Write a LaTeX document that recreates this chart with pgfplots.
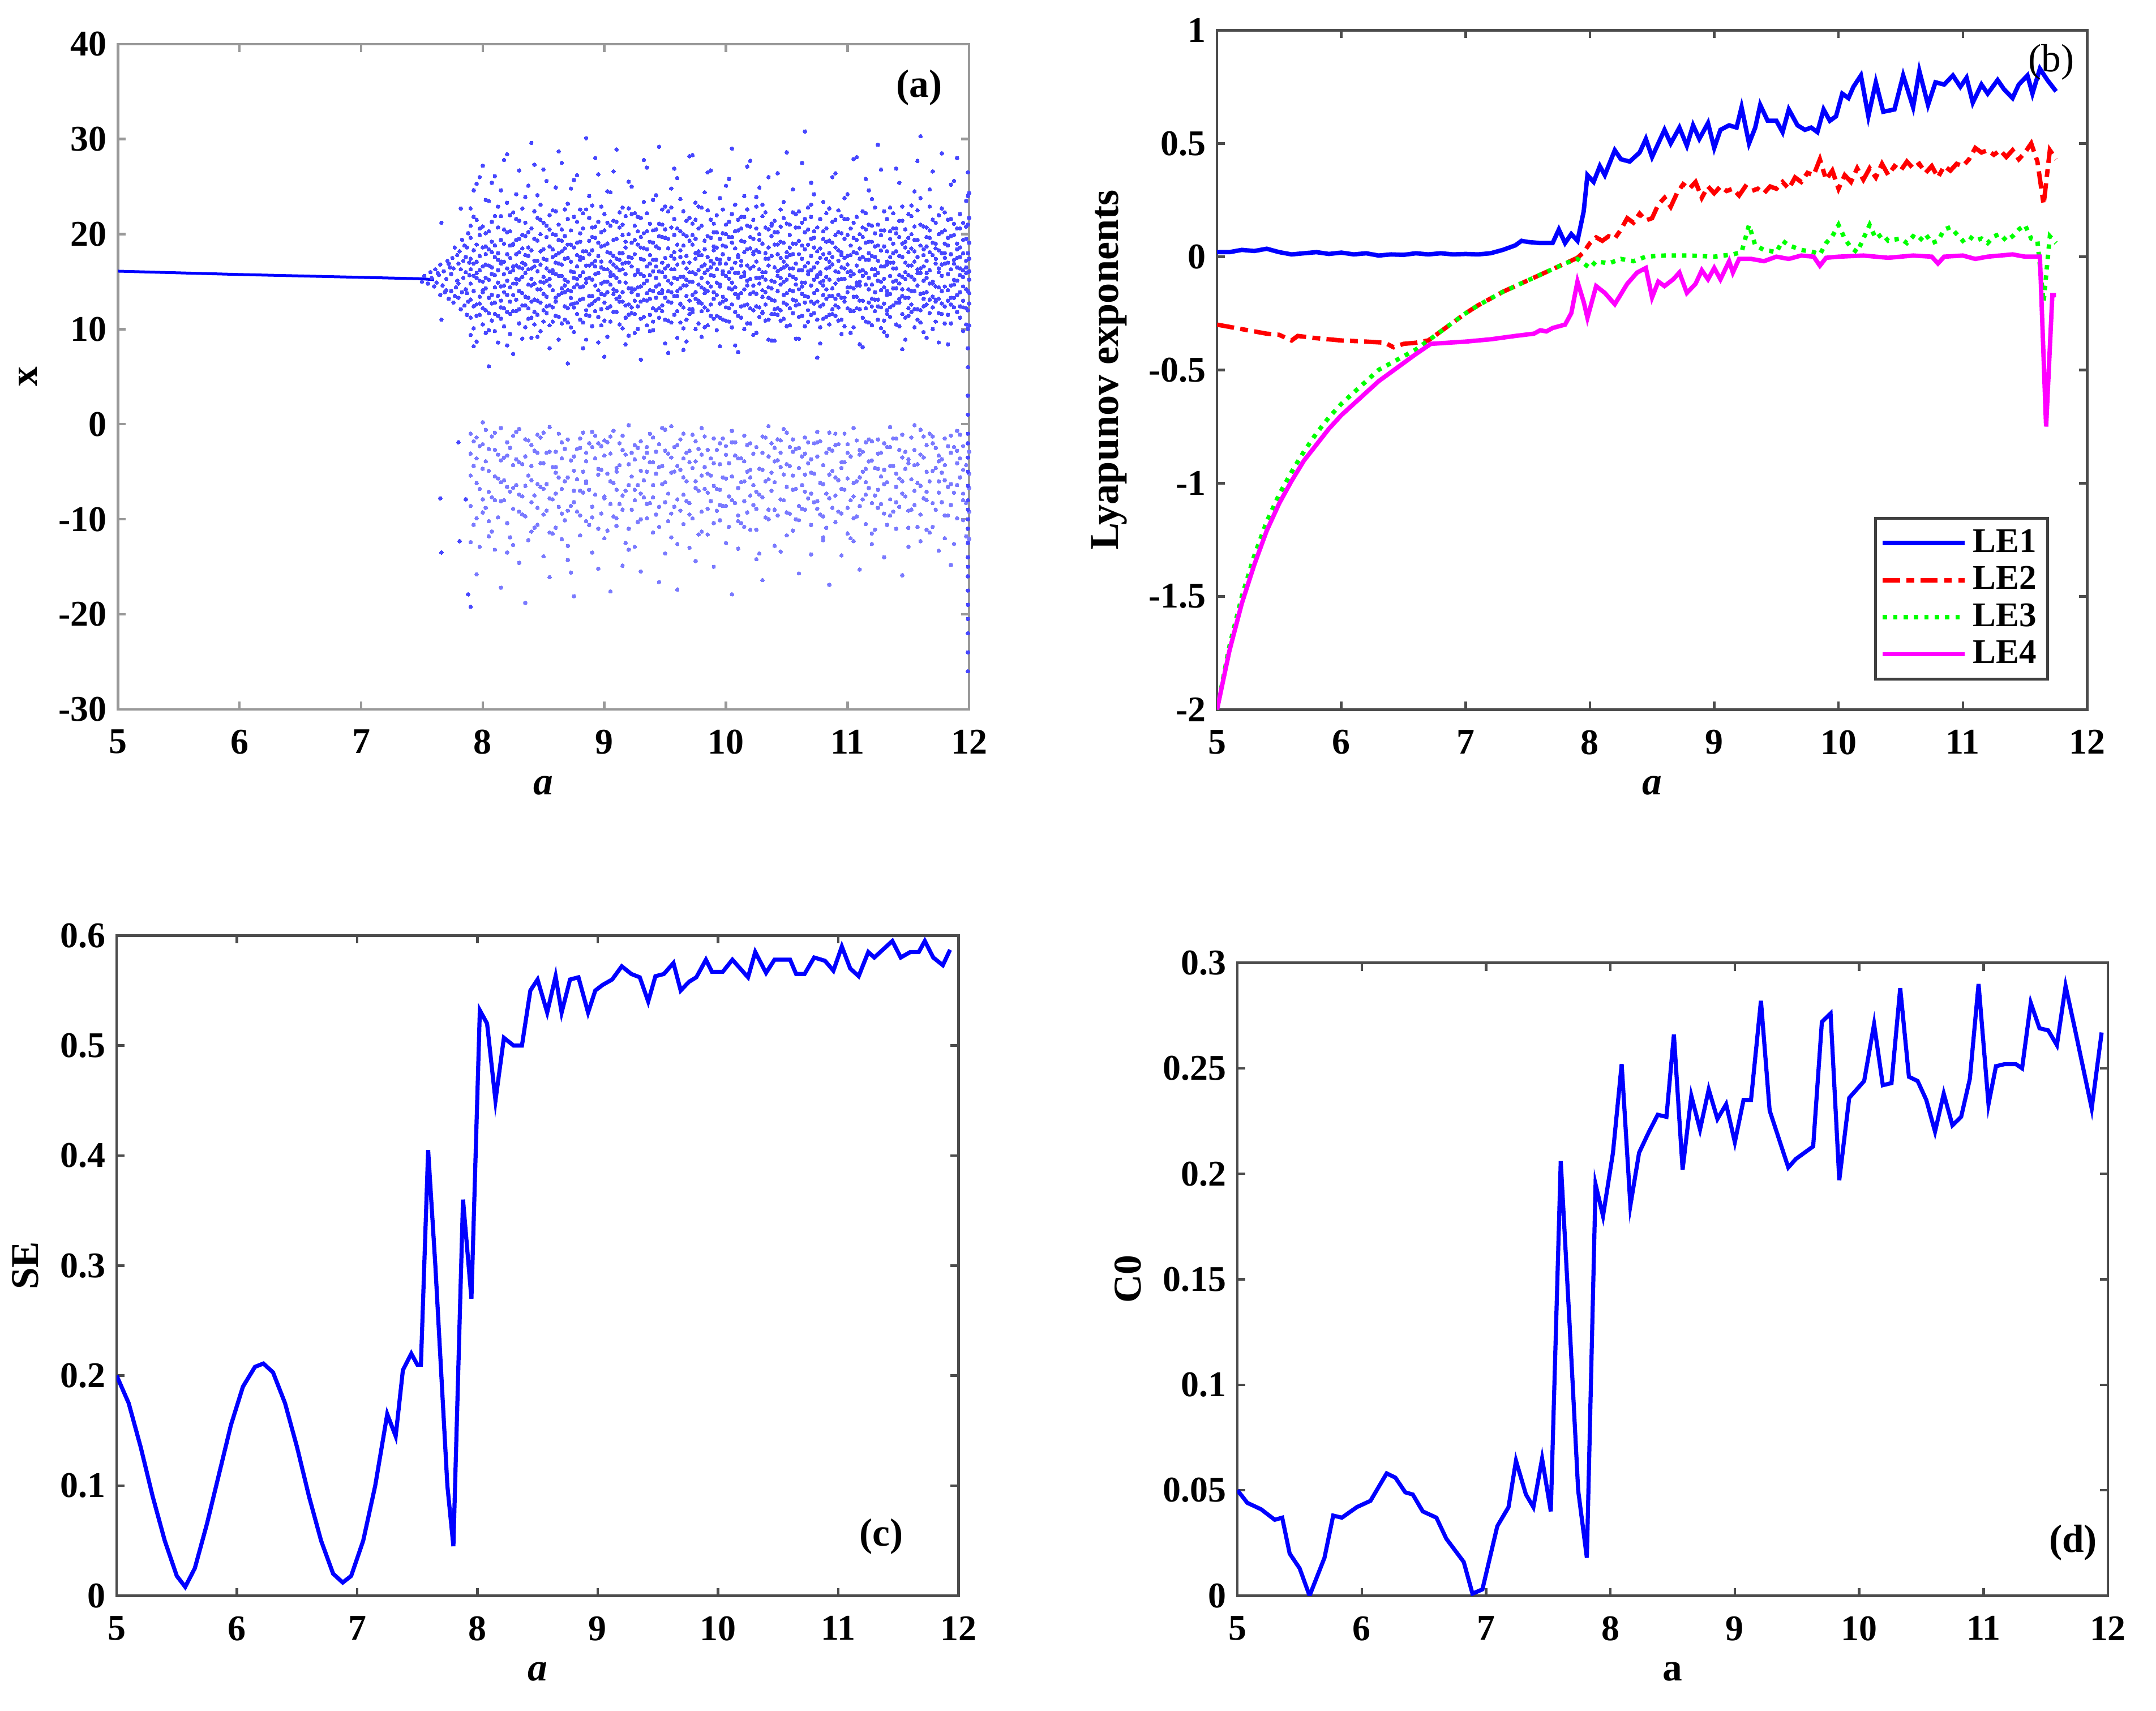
\documentclass[border=0pt]{standalone}
\usepackage{fontspec}
\setmainfont{Liberation Serif}
\usepackage{pgfplots}
\pgfplotsset{compat=1.18}
\usepackage{pgfplotstable}

\definecolor{mag}{rgb}{1,0,1}
\definecolor{grn}{rgb}{0,1,0}
\colorlet{dotup}{blue!72!white}
\colorlet{dotlo}{blue!52!white}

\newcommand\tickfont{\fontsize{11.5}{13}\selectfont\bfseries}
\newcommand\labfont{\fontsize{12.5}{14}\selectfont\bfseries}

\pgfplotsset{
  panel/.style={
    scale only axis,
    xmin=5, xmax=12, xtick={5,...,12},
    tick align=inside, major tick length=2.5pt,
    axis line style={black!70, line width=0.8pt},
    tick style={black!70, line width=0.8pt},
    ticklabel style={font=\tickfont},
    xticklabel style={yshift=-3pt},
    scaled ticks=false,
    /pgf/number format/fixed,
    /pgf/number format/assume math mode=true,
    label style={font=\labfont},
  },
  dots/.style={only marks, mark=*, mark size=0.6pt, color=dotup,
    mark options={fill=dotup, draw=dotup, line width=0pt}},
  ldots/.style={only marks, mark=*, mark size=0.6pt, color=dotlo,
    mark options={fill=dotlo, draw=dotlo, line width=0pt}},
}

% bifurcation cloud, upper band (u) and lower band (l) samples per a
\pgfplotstableread{
a u1 u2 u3 u4 u5 u6 l1 l2 l3 u7 u8 u9 l4 l5
7.90 14.8 19.6 11.2 22.7 16.3 9.4 -3.1 -8.6 -12.4 13.1 17.4 20.9 -5.4 -1.0
7.95 17.1 12.6 25.3 15.4 8.7 18.9 -6.2 -1.4 -15.8 15.9 11.4 21.5 -9.9 -3.6
8.00 13.9 20.8 16.6 10.5 27.2 14.1 -9.3 -4.7 0.2 18.6 12.2 15.0 -2.1 -7.9
8.05 18.4 11.7 15.2 23.5 13.3 6.1 -2.6 -11.8 -7.1 16.7 20.3 9.9 -4.9 -10.2
8.10 15.7 21.9 12.8 17.6 9.8 26.1 -5.5 -13.2 -0.9 14.4 18.8 11.6 -8.0 -2.7
8.15 12.3 16.9 19.4 14.5 24.6 11.1 -8.1 -3.8 -17.2 17.1 13.0 21.9 -6.1 -0.4
8.20 20.2 13.6 8.3 17.9 15.1 28.4 -1.9 -10.4 -6.6 11.8 16.4 23.3 -3.3 -13.5
8.25 16.2 11.9 22.3 14.8 19.0 7.4 -12.7 -4.3 -8.9 18.9 13.6 16.6 -6.7 -1.2
8.30 14.0 18.1 26.7 12.1 16.5 21.4 -7.4 -0.5 -14.6 15.2 10.6 19.5 -9.2 -4.0
8.35 17.8 10.2 15.9 23.9 13.4 19.8 -3.4 -9.7 -18.8 12.5 21.2 16.8 -1.6 -6.5
8.40 12.9 16.4 20.6 9.1 29.6 15.3 -5.9 -2.2 -11.3 18.3 14.6 11.2 -4.4 -8.2
8.45 19.3 14.2 11.5 17.2 24.1 13.0 -8.8 -1.1 -6.3 16.1 21.7 9.2 -10.6 -3.0
8.50 15.5 21.2 17.4 10.8 13.7 26.8 -4.1 -13.9 -9.5 12.0 18.4 14.9 -6.8 -0.9
8.55 18.7 12.5 16.1 22.0 8.0 14.6 -0.3 -7.8 -16.1 20.5 15.3 10.4 -2.9 -11.4
8.60 13.3 19.9 24.9 15.8 11.4 17.0 -10.9 -5.1 -2.9 17.8 12.9 22.4 -7.3 -4.5
8.65 16.8 10.6 14.3 20.5 18.2 27.5 -6.8 -12.1 -3.6 13.8 19.3 15.6 -1.9 -9.4
8.70 21.6 15.0 12.2 17.5 6.4 23.2 -1.6 -9.1 -14.3 18.9 10.7 14.1 -5.6 -12.8
8.75 14.4 18.6 9.7 16.0 25.7 12.7 -4.9 -8.2 -18.1 15.4 21.8 12.3 -3.4 -7.0
8.80 17.3 13.1 20.1 11.0 15.6 19.2 -7.0 -2.5 -11.7 22.6 14.4 17.6 -9.6 -1.5
8.85 12.0 22.6 16.7 14.9 8.9 30.1 -3.0 -10.2 -6.0 18.2 11.5 15.3 -6.2 -3.9
8.90 19.7 15.2 13.5 18.3 23.0 10.3 -9.8 -0.8 -13.5 12.7 16.9 20.7 -2.4 -8.7
8.95 15.9 11.3 17.7 21.3 14.1 26.3 -5.3 -15.2 -2.0 19.1 13.2 8.6 -4.7 -11.0
9.00 13.6 18.8 10.9 16.3 20.4 7.1 -7.6 -3.3 -12.0 15.0 22.1 12.8 -7.8 -1.7
9.05 20.9 14.7 17.1 12.4 24.4 16.0 -1.3 -8.4 -17.6 10.8 18.0 15.6 -3.1 -6.0
9.10 16.5 11.8 19.5 15.4 28.9 13.2 -4.6 -10.7 -6.9 21.3 14.0 17.4 -9.9 -5.0
9.15 18.0 13.9 22.8 10.1 16.9 21.0 -9.0 -2.7 -14.9 12.9 16.3 19.9 -1.2 -7.5
9.20 14.3 17.6 12.6 20.0 9.3 25.5 -6.4 -0.1 -11.0 17.0 22.7 11.5 -4.2 -13.2
9.25 11.6 19.4 15.7 17.9 13.0 22.2 -3.7 -12.9 -8.0 14.2 20.9 9.6 -6.9 -2.2
9.30 17.4 14.5 21.7 12.9 18.6 6.8 -7.3 -1.8 -15.5 19.7 15.8 11.1 -10.0 -4.9
9.35 15.1 20.3 10.4 16.6 27.0 13.8 -5.0 -9.9 -2.4 13.0 18.4 22.2 -3.0 -8.4
9.40 19.1 12.2 17.3 14.0 23.6 9.9 -11.4 -4.0 -7.7 16.1 10.8 20.4 -6.4 -1.4
9.45 13.8 16.1 21.1 18.5 11.2 29.2 -2.1 -8.7 -16.6 19.8 14.7 12.2 -4.5 -10.8
9.50 16.4 22.9 13.3 15.5 19.6 8.5 -6.1 -13.6 -0.6 11.0 17.5 20.5 -8.2 -2.8
9.55 12.8 17.7 14.8 20.7 10.7 24.8 -9.4 -3.5 -11.9 16.3 22.8 13.9 -5.1 -0.2
9.60 18.9 15.3 11.9 16.8 25.9 13.5 -4.4 -7.9 -17.4 14.0 20.6 9.1 -2.2 -12.6
9.65 14.6 20.0 17.0 12.3 22.4 7.8 -1.0 -10.5 -5.6 18.8 10.1 15.5 -7.4 -3.6
9.70 17.0 13.0 19.3 15.0 28.2 11.6 -8.3 -2.8 -13.0 12.1 21.7 16.0 -4.0 -9.5
9.75 15.8 21.5 10.0 18.0 13.9 23.3 -6.7 -14.4 -3.9 17.4 13.2 19.5 -1.8 -6.0
9.80 11.9 16.6 20.9 14.4 17.8 9.2 -3.2 -9.2 -0.4 22.8 15.4 12.7 -11.3 -5.4
9.85 19.8 14.0 16.2 22.5 12.0 26.5 -7.2 -11.6 -5.2 14.9 17.6 10.4 -2.7 -8.9
9.90 13.2 18.3 15.6 11.1 20.2 16.9 -1.5 -6.5 -15.0 21.1 13.9 18.7 -4.1 -10.4
9.95 16.9 12.7 23.8 17.3 8.2 14.7 -10.1 -4.2 -8.5 11.2 19.5 14.5 -6.9 -2.0
10.00 21.0 15.6 13.1 18.7 10.9 25.1 -5.7 -12.5 -2.3 16.9 12.3 20.0 -8.6 -3.2
10.05 14.9 19.1 16.4 12.6 22.1 29.0 -8.0 -0.7 -17.9 19.7 14.2 10.2 -1.9 -5.5
10.10 17.6 11.4 20.4 15.9 13.6 7.6 -3.6 -9.6 -13.1 13.3 21.5 17.8 -10.2 -6.7
10.15 12.5 16.0 18.1 21.8 14.2 24.0 -6.0 -1.2 -10.8 15.6 10.0 19.2 -3.9 -8.1
10.20 18.5 13.7 15.3 10.6 19.7 27.7 -11.1 -4.8 -7.5 20.8 16.4 12.2 -2.0 -5.6
10.25 15.4 20.6 12.4 17.1 9.6 22.9 -2.4 -8.9 -14.2 13.7 18.3 23.9 -7.1 -11.1
10.30 16.0 14.1 19.0 13.4 23.1 11.8 -7.7 -3.0 -16.4 11.7 21.9 15.5 -4.8 -1.3
10.35 20.5 17.4 11.0 16.7 14.4 26.0 -0.2 -5.8 -10.0 18.6 13.3 8.9 -9.0 -3.4
10.40 13.0 18.9 15.0 21.4 12.1 8.8 -9.0 -3.9 -12.8 16.5 20.2 11.6 -6.1 -2.5
10.45 17.5 12.0 22.6 14.7 19.2 16.3 -4.5 -13.4 -1.7 10.9 15.4 20.8 -3.0 -7.9
10.50 15.2 21.1 13.8 10.3 17.6 28.6 -6.6 -0.9 -9.3 18.1 12.6 16.7 -11.7 -4.2
10.55 19.0 15.5 11.7 16.4 24.7 13.1 -2.9 -11.2 -5.4 14.0 22.3 17.9 -1.6 -6.9
10.60 12.6 17.9 20.7 14.2 9.0 22.4 -8.6 -4.6 -15.7 16.2 11.3 19.3 -2.5 -10.1
10.65 16.6 13.5 18.4 12.8 21.6 30.8 -1.4 -7.1 -3.1 20.2 14.9 10.3 -5.3 -9.0
10.70 21.8 16.2 14.6 19.5 11.5 25.4 -5.1 -10.6 -13.7 12.9 17.7 23.1 -3.7 -7.3
10.75 14.1 18.2 12.9 17.0 15.7 7.0 -3.4 -8.1 -0.8 20.7 15.5 11.0 -8.9 -1.9
10.80 17.9 11.1 20.3 15.1 23.4 13.6 -9.7 -6.3 -12.2 14.6 19.5 12.6 -4.3 -11.9
10.85 13.5 19.3 16.5 22.7 10.5 18.0 -2.6 -5.3 -16.9 17.1 11.5 15.2 -7.8 -0.9
10.90 18.6 14.8 12.5 16.1 26.4 11.4 -7.5 -10.3 -1.0 13.2 21.5 19.9 -2.2 -5.6
10.95 15.3 20.1 17.8 13.3 9.5 21.9 -4.0 -13.8 -6.8 18.1 11.0 16.5 -9.4 -4.6
11.00 12.2 16.8 14.4 19.9 24.2 16.0 -8.8 -2.1 -11.5 21.6 13.9 17.7 -5.7 -3.0
11.05 19.6 13.4 21.2 15.8 11.9 27.9 -0.4 -6.2 -9.9 14.3 18.1 10.2 -7.6 -12.3
11.10 16.1 18.5 12.1 17.4 14.6 8.4 -5.6 -3.2 -15.3 20.0 15.0 13.0 -2.7 -8.6
11.15 14.7 22.2 15.9 10.8 20.5 25.8 -10.5 -7.4 -1.9 17.3 12.2 19.1 -4.7 -6.1
11.20 17.7 12.4 19.2 16.3 13.2 23.7 -3.8 -8.3 -12.6 10.4 20.9 14.7 -11.5 -1.8
11.25 13.1 17.2 15.1 21.0 11.0 29.4 -6.9 -1.6 -4.7 18.8 15.9 12.4 -3.1 -8.8
11.30 20.4 14.4 18.7 12.7 16.6 9.7 -2.0 -9.4 -14.0 15.3 22.4 10.9 -6.3 -4.8
11.35 15.6 19.5 13.7 17.6 22.8 11.3 -7.9 -4.4 -0.3 12.3 17.0 20.3 -9.6 -2.4
11.40 18.2 12.8 16.4 14.3 20.6 26.9 -5.2 -11.0 -8.2 20.1 10.5 15.1 -1.5 -6.6
11.45 14.2 21.4 11.6 19.0 15.5 7.9 -1.1 -6.0 -15.9 17.6 13.5 22.9 -7.3 -3.5
11.50 16.7 13.3 22.1 15.7 18.1 12.2 -9.1 -3.7 -10.9 11.4 19.6 14.2 -4.1 -12.9
11.55 19.4 17.1 14.0 20.8 10.2 24.5 -4.3 -7.0 -2.7 15.2 12.1 18.2 -8.5 -0.1
11.60 13.7 15.9 18.8 12.0 23.8 30.3 -6.5 -12.3 -0.6 21.0 16.4 10.7 -3.2 -9.5
11.65 17.2 20.7 15.4 13.9 9.1 19.7 -2.2 -8.0 -5.0 12.6 18.7 15.9 -7.1 -11.1
11.70 15.0 12.3 21.5 17.8 14.8 26.6 -10.8 -4.9 -1.3 19.1 13.4 10.0 -2.0 -8.3
11.75 18.3 16.4 13.2 20.0 11.7 8.6 -3.3 -7.2 -13.3 14.4 22.0 16.0 -6.0 -3.9
11.80 12.4 19.0 16.9 14.5 22.3 17.5 -5.9 -1.5 -9.6 18.0 10.6 20.4 -12.0 -4.3
11.85 16.3 14.6 19.8 12.6 25.2 10.6 -8.5 -3.0 -14.8 13.3 17.9 21.6 -1.2 -6.3
11.90 20.6 15.1 17.5 13.6 18.4 28.0 -2.8 -6.4 -0.7 11.8 16.5 19.0 -9.9 -4.1
11.95 14.5 18.0 12.3 21.2 16.2 9.8 -4.8 -10.1 -7.3 19.4 13.0 15.5 -2.3 -8.0
12.00 13.8 17.4 10.4 19.1 15.2 24.3 -6.7 -2.9 -12.1 16.1 21.7 12.7 -5.2 -9.2
}\cloudA

\pgfplotstableread{
a u1 u2 u3 u4 u5 u6 u7 u8 u9 l1 l2 l3 l4 l5
7.925 15.6 12.4 18.3 21.8 10.1 16.9 14.0 24.6 8.2 -4.4 -10.6 -1.8 -7.3 -14.1
7.975 13.4 17.7 19.9 11.5 15.1 26.0 12.7 16.2 20.6 -2.3 -6.8 -12.9 -5.0 -9.1
8.025 16.8 14.3 9.6 20.1 17.9 12.0 23.6 15.4 18.7 -8.8 -3.9 -0.6 -15.1 -6.2
8.075 12.7 19.2 15.8 13.6 25.4 18.1 10.9 16.5 21.3 -1.3 -7.7 -11.3 -4.6 -2.8
8.125 18.0 14.9 11.4 16.2 20.7 22.9 13.5 8.6 17.3 -5.7 -9.8 -3.2 -13.6 -0.3
8.175 14.6 20.5 17.1 12.2 15.8 10.3 19.0 27.8 13.9 -3.5 -8.0 -5.9 -1.1 -16.7
8.225 17.5 11.6 22.0 14.4 18.8 16.0 12.9 20.3 9.5 -7.1 -2.5 -11.9 -4.9 -9.3
8.275 13.1 16.7 19.4 24.2 11.9 15.3 17.9 14.8 21.6 -0.8 -6.4 -3.7 -10.0 -13.0
8.325 19.9 15.5 12.5 17.0 13.8 9.0 22.7 16.4 18.5 -4.2 -9.5 -7.6 -2.1 -16.0
8.375 16.3 13.3 20.2 11.1 18.6 25.1 14.7 12.2 17.7 -5.4 -1.7 -12.2 -8.0 -3.4
8.425 14.8 22.4 16.6 10.5 19.5 13.1 27.3 17.2 11.8 -2.8 -7.5 -10.9 -5.3 -14.7
8.475 18.2 12.8 15.0 21.5 14.2 16.8 9.8 20.0 23.1 -6.6 -1.4 -4.1 -12.6 -8.3
8.525 11.7 17.3 19.7 13.4 16.4 25.6 15.1 12.4 20.9 -3.0 -9.1 -6.3 -0.5 -10.7
8.575 15.9 20.0 14.1 18.4 10.8 12.3 22.5 17.6 16.2 -7.9 -4.5 -11.5 -2.2 -17.3
8.625 19.4 13.6 16.9 11.3 21.0 15.6 8.9 18.0 28.7 -1.0 -5.6 -8.7 -13.3 -3.9
8.675 12.4 18.5 22.6 15.2 13.9 17.4 19.8 11.0 14.6 -6.0 -10.1 -2.6 -4.7 -7.8
8.725 17.1 14.0 10.2 20.4 16.1 12.6 24.8 18.9 13.3 -3.8 -8.6 -15.6 -1.5 -6.9
8.775 14.7 21.3 17.8 12.8 19.1 15.3 11.6 16.6 26.2 -9.2 -2.6 -5.8 -11.8 -4.3
8.825 20.6 16.0 13.2 18.2 10.7 22.2 14.5 17.5 8.0 -5.0 -0.9 -7.2 -14.5 -3.1
8.875 13.5 17.9 15.4 21.7 12.5 16.7 19.3 11.4 24.0 -2.0 -6.9 -10.6 -4.0 -8.5
8.925 16.6 11.9 19.6 14.6 17.2 13.0 20.8 15.8 28.0 -7.4 -3.6 -1.2 -12.4 -5.6
8.975 18.7 14.8 12.1 16.5 22.9 10.4 17.1 13.7 20.2 -4.8 -9.4 -2.3 -6.5 -16.2
9.025 12.2 19.0 16.3 13.9 18.1 24.5 15.0 21.2 9.2 -1.9 -5.2 -11.2 -8.1 -3.3
9.075 17.7 13.7 21.4 15.7 11.8 19.4 14.2 16.8 26.6 -6.2 -0.7 -9.7 -3.8 -13.9
9.125 15.0 20.7 12.9 18.0 16.2 10.5 22.3 13.4 17.3 -8.4 -4.3 -2.0 -6.7 -11.0
9.175 19.2 12.5 17.0 14.9 21.9 15.8 11.2 18.6 8.4 -3.2 -7.0 -12.5 -5.1 -0.9
9.225 13.9 16.6 22.1 11.7 14.3 19.1 17.5 12.3 25.0 -5.5 -9.0 -3.0 -15.0 -7.6
9.275 16.2 18.9 14.4 20.3 12.4 16.0 10.0 21.8 13.6 -2.5 -6.4 -10.3 -1.4 -4.6
9.325 20.1 13.1 17.3 15.6 18.5 11.3 23.4 14.8 27.8 -7.7 -3.5 -5.9 -12.8 -9.6
9.375 11.5 15.7 19.2 13.2 21.1 16.9 14.1 17.8 9.8 -4.0 -1.0 -8.3 -6.1 -17.0
9.425 17.3 14.5 12.0 18.7 15.4 20.5 13.3 24.1 16.6 -9.5 -2.9 -5.2 -11.4 -3.7
9.475 14.1 21.0 16.0 11.9 19.7 13.8 17.0 12.5 22.6 -6.3 -0.4 -4.4 -8.8 -13.4
9.525 18.5 12.9 15.1 22.4 16.7 10.9 19.5 14.0 7.5 -3.1 -7.3 -10.2 -1.8 -5.7
9.575 15.4 17.4 13.5 19.9 11.5 16.3 21.6 18.1 26.9 -5.0 -8.7 -2.4 -12.1 -6.6
9.625 12.6 20.3 17.6 14.3 18.3 12.7 15.5 10.7 23.7 -1.6 -4.8 -9.1 -7.2 -15.4
9.675 19.8 15.2 11.0 16.4 13.5 21.4 17.7 14.6 8.7 -8.1 -3.0 -6.0 -11.0 -2.1
9.725 16.0 12.1 18.9 21.1 15.0 13.6 19.9 11.8 28.3 -4.6 -9.9 -1.1 -5.9 -13.8
9.775 13.0 17.8 14.7 10.6 20.6 16.2 12.8 22.9 18.2 -2.6 -7.0 -11.6 -3.9 -8.9
9.825 18.4 14.2 16.8 19.3 12.3 15.9 24.4 10.2 13.8 -6.8 -1.3 -4.5 -10.0 -16.4
9.875 15.7 21.5 12.6 17.2 14.5 19.6 11.4 16.5 26.7 -3.6 -8.1 -5.4 -0.8 -12.5
9.925 11.4 16.3 20.2 13.6 18.6 14.9 22.0 17.4 9.9 -9.1 -2.7 -6.8 -4.2 -11.9
9.975 17.9 13.4 15.8 22.6 11.0 20.1 16.1 12.9 18.8 -1.5 -5.6 -8.6 -13.1 -3.5
10.025 14.3 19.7 17.4 12.2 16.0 10.8 21.3 15.3 25.8 -7.6 -4.1 -10.8 -2.3 -6.3
10.075 20.3 15.9 11.8 18.5 13.7 17.0 14.4 23.1 8.3 -3.3 -8.3 -1.9 -5.8 -14.8
10.125 13.8 17.2 21.8 15.5 19.3 12.4 16.7 11.2 20.6 -6.1 -10.4 -3.6 -7.9 -0.6
10.175 16.7 12.6 14.6 20.9 15.1 18.4 10.6 22.6 27.1 -2.2 -5.0 -9.3 -12.2 -4.4
10.225 19.5 14.6 17.9 12.0 16.6 21.5 13.9 18.1 9.4 -8.5 -3.1 -6.4 -1.1 -10.5
10.275 12.3 18.1 15.4 20.0 11.3 14.8 19.4 16.3 24.9 -4.7 -7.4 -13.6 -2.9 -5.5
10.325 17.4 13.9 22.3 16.0 18.0 12.6 15.2 10.9 20.7 -1.4 -6.0 -9.8 -4.0 -16.8
10.375 15.1 20.9 13.1 17.7 11.6 19.8 14.3 21.1 8.8 -7.0 -2.0 -5.1 -11.3 -8.7
10.425 18.9 16.1 11.5 14.0 20.2 15.6 12.2 17.9 26.4 -3.8 -9.6 -1.6 -6.6 -12.0
10.475 13.6 15.0 19.1 21.7 12.8 17.1 16.5 11.1 23.4 -5.3 -0.5 -8.0 -3.2 -14.4
10.525 16.4 12.2 17.8 14.1 19.9 10.4 21.0 15.7 18.6 -9.4 -4.4 -2.4 -7.1 -11.7
10.575 20.7 14.7 13.0 16.9 15.3 22.1 12.5 19.0 9.0 -2.6 -6.8 -10.0 -4.8 -1.3
10.625 14.5 18.8 16.2 11.4 21.2 13.7 17.4 14.9 27.5 -6.4 -3.4 -8.9 -12.8 -5.7
10.675 12.0 17.0 20.5 15.8 13.4 18.9 10.8 22.8 16.1 -4.1 -1.9 -7.8 -9.9 -15.2
10.725 18.6 13.8 15.2 19.6 11.7 16.5 20.3 12.7 24.2 -8.2 -5.2 -2.0 -11.2 -3.8
10.775 15.8 21.6 12.4 17.5 14.9 10.2 18.5 16.0 8.5 -1.8 -6.2 -9.5 -4.3 -13.2
10.825 11.3 16.4 19.2 13.2 22.2 15.5 14.2 20.6 17.4 -7.3 -3.0 -10.9 -5.6 -0.7
10.875 19.1 14.3 17.6 12.1 16.8 21.3 13.5 11.6 26.0 -4.9 -8.8 -2.8 -14.1 -6.5
10.925 16.0 20.2 13.6 18.3 10.9 15.2 22.5 17.2 12.3 -2.1 -5.9 -9.2 -3.6 -11.5
10.975 13.3 17.5 21.6 15.3 19.5 12.9 16.4 10.3 23.8 -6.9 -4.0 -1.0 -7.7 -16.0
11.025 18.8 12.0 16.1 20.6 14.4 17.8 11.9 15.6 9.6 -3.4 -8.0 -12.0 -5.3 -2.5
11.075 14.9 19.4 13.4 16.7 21.8 12.2 18.0 14.6 28.1 -9.7 -1.7 -6.0 -4.1 -10.3
11.125 17.6 15.6 11.2 19.7 13.0 16.2 20.7 22.4 8.1 -5.0 -2.9 -7.9 -13.5 -0.8
11.175 12.8 21.0 18.0 14.2 17.3 10.7 15.4 19.2 24.6 -1.6 -6.7 -3.9 -9.0 -5.8
11.225 16.3 13.1 15.7 22.8 11.9 18.7 13.9 17.6 20.1 -7.5 -4.6 -11.1 -2.2 -15.7
11.275 19.9 16.6 12.3 15.0 20.4 14.1 10.1 18.3 26.8 -3.0 -8.4 -5.5 -1.2 -7.0
11.325 14.0 18.2 17.1 11.6 13.6 21.6 16.8 12.0 9.3 -6.1 -2.4 -10.6 -4.9 -12.4
11.375 17.0 12.5 20.6 16.4 19.0 15.0 22.2 14.3 18.0 -4.4 -9.2 -1.5 -7.5 -3.3
11.425 13.2 19.7 14.8 10.3 17.7 12.8 15.7 21.4 25.4 -8.7 -5.7 -2.7 -11.7 -6.3
11.475 20.5 15.3 18.6 13.3 16.0 11.2 19.2 17.0 8.9 -2.9 -7.6 -4.7 -10.4 -14.6
11.525 15.5 11.8 14.0 21.9 18.5 16.7 12.6 20.0 23.0 -5.8 -1.4 -9.0 -3.4 -7.9
11.575 12.1 17.6 22.5 15.9 14.6 19.4 11.0 16.3 27.7 -4.2 -10.8 -6.2 -2.0 -12.7
11.625 18.4 13.2 16.6 12.4 20.8 15.1 17.8 13.8 9.7 -7.8 -3.5 -1.3 -5.5 -16.5
11.675 14.8 20.4 11.7 18.1 13.1 22.9 16.2 19.6 24.7 -1.0 -6.0 -11.4 -8.4 -3.9
11.725 16.9 12.9 19.0 14.5 17.4 10.8 21.2 13.1 18.5 -9.0 -4.6 -2.5 -6.9 -12.1
11.775 11.6 18.0 15.6 20.2 12.7 16.8 14.0 22.7 28.5 -3.7 -8.2 -5.1 -1.6 -10.1
11.825 19.6 14.1 13.0 17.0 21.5 11.5 18.8 15.8 8.4 -6.6 -2.3 -9.6 -4.5 -14.3
11.875 15.2 17.3 21.1 12.3 14.7 19.9 13.3 16.9 25.6 -2.4 -7.2 -12.6 -5.0 -8.7
11.925 13.9 20.6 16.4 18.6 11.2 15.7 22.1 12.4 17.6 -5.6 -1.1 -3.6 -9.8 -6.8
11.975 17.2 12.2 14.2 19.5 16.5 20.8 10.5 15.9 23.5 -8.3 -4.3 -11.8 -2.6 -15.8
}\cloudB

\begin{document}
\begin{tikzpicture}
\useasboundingbox (0,0) rectangle (685.6pt,543.8pt);

% (a) bifurcation diagram
\begin{axis}[panel, at={(37.5pt,318.3pt)}, width=270.7pt, height=211.5pt,
  ymin=-30, ymax=40, ytick={-30,-20,...,40},
  axis line style={black!40}, tick style={black!40},
  ylabel={x}, xlabel={\itshape a}]
\addplot[blue, line width=0.9pt] coordinates {(5,16.1) (6,15.75) (7,15.45) (7.5,15.3) (7.6,15.2)};
\addplot[dots] coordinates {
(7.50,15.0) (7.52,15.6) (7.55,14.8) (7.57,16.0) (7.58,15.4) (7.60,14.5) (7.61,16.3)
(7.62,14.9) (7.63,15.9) (7.64,15.7) (7.65,16.8) (7.65,13.6) (7.66,21.2) (7.66,11.0)
(7.65,-7.8) (7.66,-13.5) (7.67,14.6) (7.68,16.1) (7.69,13.9) (7.70,14.1) (7.70,15.3)
(7.71,17.2) (7.72,13.2) (7.72,16.9) (7.73,16.5) (7.74,14.0) (7.74,15.8) (7.75,17.5)
(7.76,12.8) (7.76,16.4) (7.77,18.6) (7.77,13.5) (7.78,14.4) (7.79,15.1) (7.79,17.8)
(7.80,16.9) (7.80,13.3) (7.80,14.8) (7.81,18.2) (7.82,12.1) (7.82,16.3) (7.82,22.7)
(7.83,19.4) (7.83,13.9) (7.84,15.4) (7.84,17.2) (7.80,-1.9) (7.81,-12.3) (7.85,18.8)
(7.85,12.5) (7.86,17.6) (7.86,14.2) (7.86,16.0) (7.87,13.8) (7.87,18.6) (7.87,11.5)
(7.88,20.1) (7.88,12.9) (7.89,15.7) (7.89,17.0) (7.86,-7.9) (7.88,-17.9) (7.90,-19.2)};
\pgfplotsinvokeforeach{u1,u2,u3,u4,u5,u6,u7,u8,u9}{
  \addplot[dots] table[x=a, y=#1] {\cloudA};
  \addplot[dots] table[x=a, y=#1] {\cloudB};
}
\pgfplotsinvokeforeach{l1,l2,l3,l4,l5}{
  \addplot[ldots] table[x=a, y=#1] {\cloudA};
}
\pgfplotsinvokeforeach{l1,l2,l3}{
  \addplot[ldots] table[x=a, y=#1] {\cloudB};
}
\addplot[dots] coordinates {
(11.99,-26) (11.99,-24) (11.99,-22) (11.99,-20.5) (11.99,-19) (11.99,-17.5)
(11.99,-16) (11.99,-15) (11.99,-14) (11.99,-12.5) (11.99,-11) (11.99,-10)
(11.99,-9) (11.99,-8) (11.99,-6.5) (11.99,-5) (11.99,-3.5) (11.99,-2) (11.99,-1)
(11.99,1) (11.99,3) (11.99,6) (11.99,8) (11.99,10) (11.99,12) (11.99,14)
(11.99,16) (11.99,18) (11.99,21) (11.99,24) (11.99,26.5)};
\node[font=\labfont] at (axis cs:11.59,35.4) {(a)};
\end{axis}

% (b) Lyapunov exponents
\begin{axis}[panel, at={(387pt,318.2pt)}, width=276.7pt, height=216pt,
  ymin=-2, ymax=1, ytick={-2,-1.5,-1,-0.5,0,0.5,1},
  ylabel={Lyapunov exponents}, xlabel={\itshape a},
  ylabel style={font=\fontsize{13}{15}\selectfont\bfseries},
  legend style={at={(0.956,0.043)}, anchor=south east, draw=black!75,
    line width=0.9pt, font=\fontsize{11}{13}\selectfont\bfseries,
    inner sep=1.5pt, row sep=-1pt},
  legend cell align=left,
  legend image code/.code={\draw[#1] (0pt,0pt) -- (26pt,0pt);}]
\addplot[blue, line width=1.4pt] coordinates {
(5.0,0.02) (5.1,0.02) (5.2,0.03) (5.3,0.025) (5.4,0.035) (5.5,0.02) (5.6,0.01)
(5.7,0.015) (5.8,0.02) (5.9,0.012) (6.0,0.018) (6.1,0.01) (6.2,0.015) (6.3,0.005)
(6.4,0.01) (6.5,0.008) (6.6,0.015) (6.7,0.01) (6.8,0.015) (6.9,0.01) (7.0,0.012)
(7.1,0.01) (7.2,0.015) (7.3,0.03) (7.4,0.05) (7.45,0.07) (7.5,0.065) (7.6,0.06)
(7.7,0.06) (7.75,0.12) (7.8,0.06) (7.85,0.1) (7.9,0.07) (7.95,0.2) (7.98,0.36)
(8.03,0.33) (8.08,0.4) (8.12,0.36) (8.2,0.47) (8.25,0.43) (8.32,0.42) (8.4,0.46)
(8.45,0.52) (8.5,0.44) (8.55,0.5) (8.6,0.56) (8.65,0.5) (8.72,0.57) (8.78,0.49)
(8.83,0.58) (8.88,0.52) (8.95,0.59) (9.0,0.48) (9.05,0.56) (9.12,0.58) (9.18,0.57)
(9.22,0.66) (9.28,0.5) (9.33,0.57) (9.37,0.67) (9.43,0.6) (9.5,0.6) (9.55,0.55)
(9.6,0.65) (9.67,0.58) (9.73,0.56) (9.78,0.57) (9.83,0.55) (9.88,0.65) (9.93,0.6)
(9.98,0.62) (10.03,0.72) (10.08,0.7) (10.12,0.75) (10.18,0.8) (10.24,0.62)
(10.3,0.77) (10.36,0.64) (10.45,0.65) (10.52,0.8) (10.6,0.66) (10.65,0.82)
(10.72,0.67) (10.78,0.77) (10.85,0.76) (10.92,0.8) (10.98,0.75) (11.03,0.79)
(11.08,0.68) (11.15,0.76) (11.2,0.72) (11.28,0.78) (11.33,0.74) (11.4,0.7)
(11.45,0.76) (11.52,0.8) (11.56,0.72) (11.62,0.83) (11.68,0.78) (11.75,0.73)};
\addlegendentry{LE1}
\addplot[red, line width=1.4pt, dash pattern=on 5.5pt off 2pt on 2.5pt off 2pt] coordinates {
(5.0,-0.3) (5.1,-0.31) (5.2,-0.32) (5.3,-0.33) (5.4,-0.34) (5.5,-0.345) (5.6,-0.37)
(5.65,-0.35) (5.8,-0.36) (6.0,-0.37) (6.2,-0.375) (6.35,-0.38) (6.42,-0.4)
(6.5,-0.385) (6.6,-0.38) (6.7,-0.37) (6.8,-0.33) (6.9,-0.29) (7.0,-0.25)
(7.1,-0.215) (7.2,-0.185) (7.3,-0.155) (7.4,-0.13) (7.5,-0.105) (7.6,-0.08)
(7.7,-0.055) (7.8,-0.03) (7.9,-0.005) (7.95,0.02) (8.0,0.06) (8.05,0.085)
(8.1,0.07) (8.15,0.09) (8.2,0.08) (8.25,0.12) (8.3,0.17) (8.35,0.15) (8.4,0.19)
(8.45,0.16) (8.5,0.17) (8.55,0.23) (8.6,0.26) (8.65,0.22) (8.7,0.28) (8.75,0.32)
(8.8,0.3) (8.85,0.33) (8.9,0.26) (8.95,0.31) (9.0,0.28) (9.05,0.31) (9.1,0.29)
(9.15,0.3) (9.2,0.27) (9.25,0.31) (9.3,0.29) (9.35,0.3) (9.4,0.28) (9.45,0.31)
(9.5,0.3) (9.55,0.33) (9.6,0.3) (9.65,0.35) (9.7,0.33) (9.75,0.37) (9.8,0.36)
(9.85,0.43) (9.9,0.34) (9.95,0.38) (10.0,0.3) (10.05,0.36) (10.1,0.33) (10.15,0.39)
(10.2,0.34) (10.25,0.39) (10.3,0.35) (10.35,0.41) (10.4,0.36) (10.45,0.4)
(10.5,0.38) (10.55,0.42) (10.6,0.39) (10.65,0.41) (10.7,0.37) (10.75,0.4)
(10.8,0.35) (10.85,0.4) (10.9,0.38) (10.95,0.41) (11.0,0.4) (11.05,0.43)
(11.1,0.48) (11.15,0.46) (11.2,0.47) (11.25,0.45) (11.3,0.47) (11.35,0.44)
(11.4,0.47) (11.45,0.43) (11.5,0.46) (11.55,0.5) (11.6,0.42) (11.65,0.23)
(11.7,0.47) (11.75,0.43)};
\addlegendentry{LE2}
\addplot[grn, line width=1.4pt, dash pattern=on 1.4pt off 1.9pt] coordinates {
(5.0,-2.0) (5.1,-1.72) (5.2,-1.5) (5.3,-1.32) (5.4,-1.17) (5.5,-1.05) (5.6,-0.95)
(5.7,-0.86) (5.8,-0.78) (5.9,-0.71) (6.0,-0.65) (6.1,-0.6) (6.2,-0.55) (6.3,-0.5)
(6.4,-0.47) (6.5,-0.44) (6.6,-0.41) (6.7,-0.37) (6.8,-0.33) (6.9,-0.29) (7.0,-0.25)
(7.1,-0.215) (7.2,-0.185) (7.3,-0.155) (7.4,-0.13) (7.5,-0.105) (7.6,-0.08)
(7.7,-0.055) (7.8,-0.03) (7.9,-0.01) (7.95,-0.03) (8.0,-0.05) (8.05,-0.02)
(8.15,-0.03) (8.25,-0.01) (8.35,-0.02) (8.45,0.0) (8.6,0.005) (8.8,0.005)
(9.0,0.0) (9.15,0.01) (9.22,0.02) (9.28,0.14) (9.33,0.05) (9.4,0.03) (9.5,0.02)
(9.55,0.07) (9.6,0.05) (9.7,0.03) (9.8,0.02) (9.85,0.01) (9.9,0.06) (9.95,0.09)
(10.0,0.14) (10.05,0.08) (10.1,0.04) (10.15,0.02) (10.2,0.08) (10.25,0.14)
(10.3,0.08) (10.35,0.1) (10.4,0.07) (10.5,0.08) (10.55,0.06) (10.6,0.09)
(10.65,0.07) (10.7,0.1) (10.75,0.06) (10.8,0.07) (10.85,0.12) (10.9,0.13)
(10.95,0.1) (11.0,0.07) (11.05,0.09) (11.1,0.07) (11.15,0.08) (11.2,0.06)
(11.25,0.09) (11.3,0.1) (11.35,0.07) (11.4,0.09) (11.45,0.12) (11.5,0.14)
(11.55,0.08) (11.6,0.07) (11.65,-0.2) (11.7,0.09) (11.75,0.06)};
\addlegendentry{LE3}
\addplot[mag, line width=1.4pt] coordinates {
(5.0,-2.0) (5.1,-1.74) (5.2,-1.53) (5.3,-1.36) (5.4,-1.21) (5.5,-1.09) (5.6,-0.99)
(5.7,-0.9) (5.8,-0.83) (5.9,-0.76) (6.0,-0.7) (6.1,-0.65) (6.2,-0.6) (6.3,-0.55)
(6.4,-0.51) (6.5,-0.47) (6.6,-0.43) (6.72,-0.385) (7.0,-0.375) (7.2,-0.365)
(7.4,-0.35) (7.55,-0.34) (7.6,-0.325) (7.65,-0.33) (7.7,-0.315) (7.8,-0.3)
(7.85,-0.25) (7.9,-0.11) (7.95,-0.2) (7.98,-0.27) (8.05,-0.13) (8.12,-0.16)
(8.2,-0.21) (8.3,-0.12) (8.38,-0.07) (8.45,-0.05) (8.5,-0.18) (8.55,-0.11)
(8.6,-0.13) (8.67,-0.1) (8.72,-0.07) (8.78,-0.16) (8.85,-0.12) (8.9,-0.06)
(8.95,-0.1) (9.0,-0.05) (9.05,-0.1) (9.12,-0.02) (9.15,-0.07) (9.2,-0.01)
(9.3,-0.01) (9.4,-0.02) (9.5,0.0) (9.6,-0.01) (9.7,0.005) (9.8,0.0) (9.85,-0.04)
(9.9,-0.005) (10.0,0.0) (10.2,0.005) (10.4,-0.005) (10.5,0.0) (10.6,0.005)
(10.75,0.0) (10.8,-0.03) (10.85,0.0) (11.0,0.005) (11.1,-0.01) (11.2,0.0)
(11.3,0.005) (11.4,0.01) (11.5,0.0) (11.62,0.0) (11.67,-0.75) (11.72,-0.17)
(11.75,-0.17)};
\addlegendentry{LE4}
\node[font=\fontsize{12.5}{14}\selectfont] at (axis cs:11.71,0.86) {(b)};
\end{axis}

% (c) spectral entropy
\begin{axis}[panel, at={(37.1pt,36.5pt)}, width=267.7pt, height=209.9pt,
  ymin=0, ymax=0.6, ytick={0,0.1,0.2,0.3,0.4,0.5,0.6},
  ylabel={SE}, xlabel={\itshape a}]
\addplot[blue, line width=1.3pt] coordinates {
(5.0,0.200) (5.1,0.175) (5.2,0.135) (5.3,0.09) (5.4,0.05) (5.5,0.018) (5.57,0.008)
(5.65,0.025) (5.75,0.065) (5.85,0.11) (5.95,0.155) (6.05,0.19) (6.15,0.208)
(6.22,0.211) (6.3,0.203) (6.4,0.175) (6.5,0.135) (6.6,0.09) (6.7,0.05) (6.8,0.02)
(6.88,0.012) (6.95,0.018) (7.05,0.05) (7.15,0.1) (7.25,0.165) (7.32,0.145)
(7.38,0.205) (7.45,0.22) (7.5,0.21) (7.53,0.21) (7.59,0.405) (7.65,0.3) (7.7,0.2)
(7.75,0.1) (7.8,0.045) (7.88,0.36) (7.95,0.27) (8.02,0.532) (8.08,0.52) (8.15,0.45)
(8.22,0.507) (8.3,0.5) (8.37,0.5) (8.44,0.55) (8.5,0.56) (8.58,0.53) (8.65,0.563)
(8.7,0.53) (8.77,0.56) (8.84,0.562) (8.92,0.53) (8.98,0.55) (9.04,0.555)
(9.12,0.56) (9.2,0.572) (9.28,0.565) (9.35,0.562) (9.42,0.54) (9.48,0.563)
(9.55,0.565) (9.63,0.575) (9.69,0.55) (9.76,0.558) (9.82,0.562) (9.9,0.578)
(9.95,0.567) (10.04,0.567) (10.12,0.578) (10.25,0.562) (10.31,0.585) (10.4,0.566)
(10.47,0.578) (10.6,0.578) (10.65,0.565) (10.72,0.565) (10.8,0.58) (10.89,0.577)
(10.96,0.568) (11.03,0.59) (11.1,0.57) (11.17,0.563) (11.25,0.585) (11.3,0.58)
(11.38,0.588) (11.45,0.595) (11.52,0.58) (11.6,0.585) (11.67,0.585) (11.72,0.595)
(11.79,0.58) (11.87,0.573) (11.93,0.587)};
\node[font=\labfont] at (axis cs:11.36,0.054) {(c)};
\end{axis}

% (d) C0 complexity
\begin{axis}[panel, at={(393.5pt,36.5pt)}, width=276.8pt, height=201.2pt,
  ymin=0, ymax=0.3, ytick={0,0.05,0.1,0.15,0.2,0.25,0.3},
  ylabel={C0}, xlabel={a}]
\addplot[blue, line width=1.3pt] coordinates {
(5.0,0.05) (5.08,0.044) (5.19,0.041) (5.3,0.036) (5.36,0.037) (5.42,0.02)
(5.5,0.013) (5.58,0.0) (5.7,0.018) (5.77,0.038) (5.84,0.037) (5.96,0.042)
(6.07,0.045) (6.2,0.058) (6.27,0.056) (6.35,0.049) (6.41,0.048) (6.49,0.04)
(6.6,0.037) (6.68,0.027) (6.82,0.016) (6.89,0.001) (6.97,0.003) (7.09,0.033)
(7.18,0.042) (7.24,0.064) (7.32,0.048) (7.38,0.042) (7.45,0.065) (7.52,0.04)
(7.6,0.206) (7.67,0.13) (7.74,0.05) (7.81,0.018) (7.88,0.195) (7.94,0.18)
(8.02,0.21) (8.09,0.252) (8.16,0.185) (8.23,0.21) (8.31,0.22) (8.38,0.228)
(8.45,0.227) (8.51,0.266) (8.58,0.202) (8.65,0.237) (8.72,0.221) (8.79,0.24)
(8.86,0.226) (8.93,0.233) (9.0,0.215) (9.07,0.235) (9.13,0.235) (9.21,0.282)
(9.28,0.23) (9.43,0.203) (9.49,0.207) (9.63,0.213) (9.7,0.272) (9.77,0.276)
(9.84,0.197) (9.92,0.236) (10.04,0.244) (10.12,0.271) (10.19,0.242) (10.26,0.243)
(10.33,0.288) (10.4,0.246) (10.47,0.244) (10.54,0.235) (10.61,0.22) (10.68,0.238)
(10.75,0.223) (10.82,0.227) (10.89,0.245) (10.96,0.29) (11.04,0.233) (11.1,0.251)
(11.17,0.252) (11.26,0.252) (11.31,0.25) (11.38,0.281) (11.45,0.269) (11.52,0.268)
(11.59,0.261) (11.66,0.289) (11.73,0.27) (11.87,0.231) (11.95,0.267)};
\node[font=\labfont] at (axis cs:11.72,0.025) {(d)};
\end{axis}
\end{tikzpicture}
\end{document}
